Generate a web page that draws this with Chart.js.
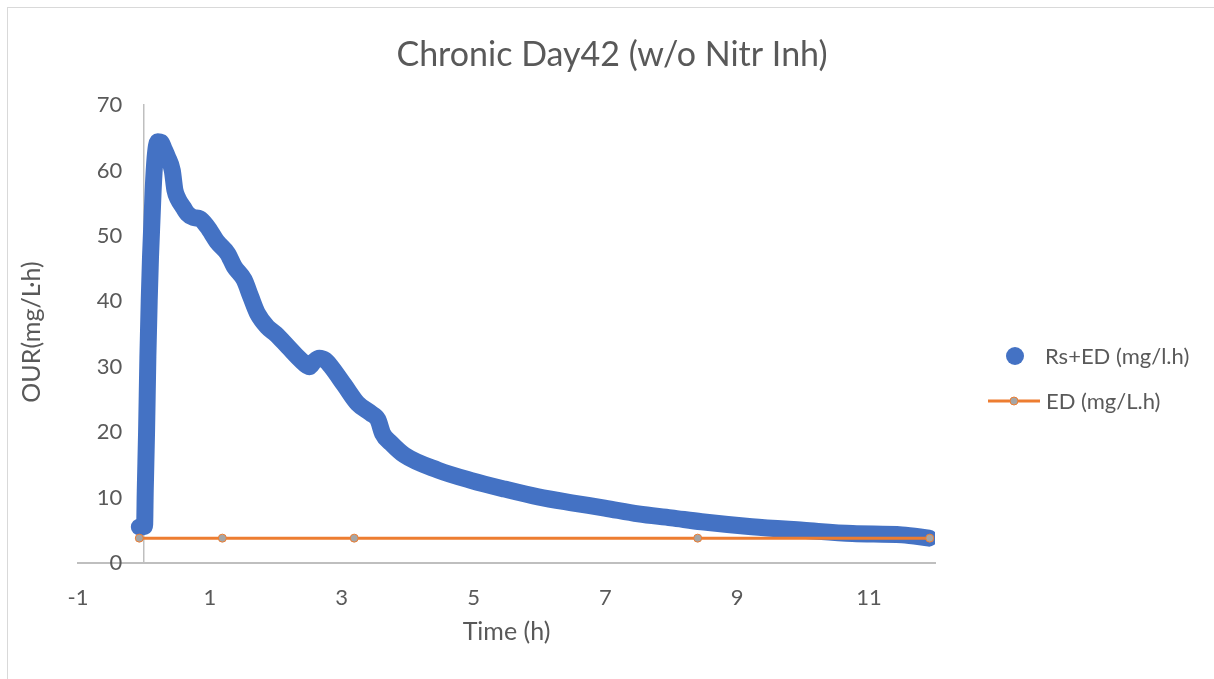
<!DOCTYPE html>
<html>
<head>
<meta charset="utf-8">
<script src="https://cdn.jsdelivr.net/npm/chart.js@4.4.1/dist/chart.umd.min.js"></script>
<style>
  html, body { margin: 0; padding: 0; background: #ffffff; }
  body { width: 1214px; height: 679px; overflow: hidden; position: relative; }
  #frame { position: absolute; left: 7px; top: 7px; width: 1300px; height: 800px; border: 1.5px solid #d9d9d9; box-sizing: border-box; }
  canvas { position: absolute; left: 0; top: 0; }
</style>
</head>
<body>
<div id="frame"></div>
<canvas id="c" width="1214" height="679"></canvas>
<script>
// ---- data ----
const chartTitle = 'Chronic Day42 (w/o Nitr Inh)';
const xAxisTitle = 'Time (h)';
const yAxisTitle = 'OUR(mg/L\u00B7h)';
const xTickValues = [-1, 1, 3, 5, 7, 9, 11];
const yTickValues = [0, 10, 20, 30, 40, 50, 60, 70];

const rsLabel = 'Rs+ED (mg/l.h)';
const rsTime = [-0.07, 0.01, 0.02, 0.04, 0.06, 0.08, 0.10, 0.14, 0.17, 0.21, 0.26, 0.30, 0.36, 0.43, 0.47, 0.52, 0.60, 0.66, 0.75, 0.85, 0.96, 1.11, 1.27, 1.37, 1.52, 1.62, 1.72, 1.87, 2.00, 2.18, 2.38, 2.51, 2.58, 2.66, 2.75, 2.84, 3.04, 3.24, 3.44, 3.55, 3.62, 3.75, 3.95, 4.46, 4.97, 5.47, 5.98, 6.49, 6.99, 7.50, 8.00, 8.46, 9.22, 10.00, 10.75, 11.50, 11.91];
const rsOUR  = [5.5, 5.6, 11, 20, 31.5, 40, 46.8, 57, 62, 64.4, 64.3, 63.4, 62, 60, 57, 55.6, 54.3, 53.4, 52.8, 52.6, 51.4, 49.1, 47.3, 45.3, 43.3, 40.7, 38.2, 36.1, 35.0, 33.1, 31.0, 30.0, 30.8, 31.3, 31.0, 30.0, 27.2, 24.4, 22.9, 21.9, 19.8, 18.3, 16.5, 14.2, 12.6, 11.3, 10.1, 9.2, 8.4, 7.5, 6.9, 6.3, 5.55, 5.0, 4.5, 4.3, 3.8];

const edLabel = 'ED (mg/L.h)';
const edTime = [-0.07, 1.19, 3.19, 8.40, 11.92];
const edOUR  = [3.8, 3.8, 3.8, 3.8, 3.8];

// ---- styles ----
const FONT = 'Lato, "Open Sans", sans-serif';
const TXT = '#595959';
const BLUE = '#4472C4';
const ORANGE = '#ED7D31';
const GRAY = '#A5A5A5';
const AXIS = '#bfbfbf';

const rsPoints = rsTime.map((t, i) => ({x: t, y: rsOUR[i]}));
const edPoints = edTime.map((t, i) => ({x: t, y: edOUR[i]}));

const overlay = {
  id: 'overlay',
  afterDraw(chart) {
    const ctx = chart.ctx;
    const ca = chart.chartArea;
    ctx.save();
    // title
    ctx.fillStyle = TXT;
    ctx.font = '34px ' + FONT;
    ctx.textAlign = 'center';
    ctx.textBaseline = 'middle';
    ctx.fillText(chartTitle, 612, 55);
    // y title
    ctx.save();
    ctx.translate(32, (ca.top + ca.bottom) / 2 - 2);
    ctx.rotate(-Math.PI / 2);
    ctx.font = '25px ' + FONT;
    ctx.fillText(yAxisTitle, 0, 0);
    ctx.restore();
    // legend
    const ds = chart.data.datasets;
    ctx.font = '22px ' + FONT;
    ctx.textAlign = 'left';
    ctx.fillStyle = ds[0].borderColor;
    ctx.beginPath(); ctx.arc(1015, 356, 9, 0, Math.PI * 2); ctx.fill();
    ctx.fillStyle = TXT;
    ctx.fillText(ds[0].label, 1045, 357);
    ctx.strokeStyle = ds[1].borderColor;
    ctx.lineWidth = 3;
    ctx.beginPath(); ctx.moveTo(988, 401); ctx.lineTo(1040, 401); ctx.stroke();
    ctx.fillStyle = ds[1].pointBackgroundColor;
    ctx.lineWidth = 1;
    ctx.beginPath(); ctx.arc(1014, 401, 4, 0, Math.PI * 2); ctx.fill(); ctx.stroke();
    ctx.fillStyle = TXT;
    ctx.fillText(ds[1].label, 1046, 402);
    ctx.restore();
  }
};

new Chart(document.getElementById('c'), {
  type: 'scatter',
  data: {
    datasets: [
      {
        label: rsLabel,
        data: rsPoints,
        showLine: true,
        borderColor: BLUE,
        backgroundColor: BLUE,
        borderWidth: 17,
        borderCapStyle: 'round',
        borderJoinStyle: 'round',
        cubicInterpolationMode: 'monotone',
        pointRadius: 0,
        pointHoverRadius: 0,
        order: 1
      },
      {
        label: edLabel,
        data: edPoints,
        showLine: true,
        borderColor: ORANGE,
        borderWidth: 3,
        pointRadius: 4,
        pointBackgroundColor: GRAY,
        pointBorderColor: ORANGE,
        pointBorderWidth: 1,
        order: 0
      }
    ]
  },
  options: {
    responsive: false,
    animation: false,
    devicePixelRatio: 1,
    layout: { padding: { left: 78, right: 279, top: 105, bottom: 0 } },
    plugins: {
      legend: { display: false },
      title: { display: false },
      tooltip: { enabled: false }
    },
    scales: {
      x: {
        type: 'linear',
        position: 'bottom',
        min: -1,
        max: 12,
        afterBuildTicks: (s) => { s.ticks = xTickValues.map(v => ({value: v})); },
        afterFit: (s) => { s.height = 116; },
        grid: { display: false, drawTicks: false },
        border: { display: true, color: AXIS, width: 2 },
        ticks: { color: TXT, font: { family: FONT, size: 22 }, padding: 22, maxRotation: 0 },
        title: { display: true, text: xAxisTitle, color: TXT, font: { family: FONT, size: 25 }, padding: { top: 0, bottom: 32 } }
      },
      // labels of the vertical axis, set a little left of x = 0
      y: {
        type: 'linear',
        position: { x: -0.33 },
        min: 0,
        max: 70,
        afterBuildTicks: (s) => { s.ticks = yTickValues.map(v => ({value: v})); },
        grid: { display: false, drawTicks: false },
        border: { display: false },
        ticks: { color: TXT, font: { family: FONT, size: 22 }, padding: 0 }
      },
      // the vertical axis line itself, crossing at x = 0
      yLine: {
        type: 'linear',
        position: { x: 0 },
        min: 0,
        max: 70,
        grid: { display: false, drawTicks: false },
        border: { display: true, color: AXIS, width: 1.5 },
        ticks: { display: false }
      }
    }
  },
  plugins: [overlay]
});
</script>
</body>
</html>
